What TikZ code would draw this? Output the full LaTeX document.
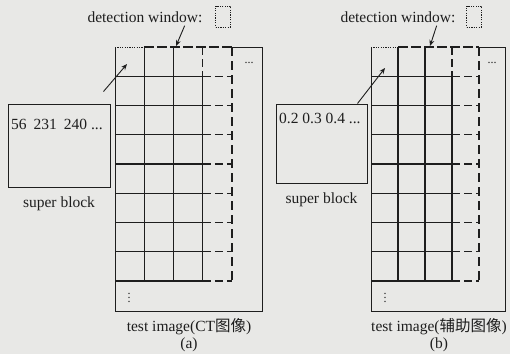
\documentclass[tikz,border=0pt]{standalone}
\usepackage{fontspec}
\setmainfont{Liberation Serif}
\newfontfamily\cjk{Noto Sans CJK SC}
\usetikzlibrary{positioning, arrows.meta}
\definecolor{PaperGray}{RGB}{232,232,230}
\definecolor{InkGray}{RGB}{30,30,30}

\begin{document}
\begin{tikzpicture}[
  x=1pt, y=-1pt,
  font=\fontsize{15.5}{18}\selectfont,
  >={Stealth[length=6pt, width=5pt]},
  lab/.style={inner sep=0pt, text=InkGray},
  smalltxt/.style={inner sep=0pt, text=InkGray, font=\fontsize{12}{12}\selectfont},
  cellline/.style={draw=InkGray, line width=1.1pt},
  wdash/.style={dash pattern=on 8pt off 4pt},
  vdash/.style={dash pattern=on 9pt off 5pt},
  frame/.style={draw=InkGray, line width=0.9pt},
  topdot/.style={draw=InkGray, line width=1pt, dash pattern=on 1.2pt off 1.2pt},
  topdash/.style={draw=InkGray, line width=1.5pt, dash pattern=on 10pt off 3pt},
  sbox/.style={draw=InkGray, line width=1pt, inner sep=0pt},
  dotbox/.style={draw=InkGray, line width=0.9pt, dash pattern=on 1.2pt off 1.2pt,
    inner sep=0pt, minimum width=15pt, minimum height=21pt},
  arr/.style={->, draw=InkGray, line width=0.9pt},
]
  \fill[PaperGray] (0,0) rectangle (510,354);
  \useasboundingbox (0,0) rectangle (510,354);

  % test image grids, (a) and (b)
  \foreach \xo/\w/\xr in {115/29.25/262, 371/27/505} {
    \foreach \i in {1,...,8} {
      \pgfmathsetmacro\yr{47+29.25*\i}
      \draw[cellline] (\xo,\yr) -- ({\xo+3*\w},\yr);
      \draw[cellline, wdash] ({\xo+3*\w},\yr) -- ({\xo+4*\w},\yr);
    }
    \foreach \j in {1,2}
      \draw[cellline] ({\xo+\j*\w},47) -- ({\xo+\j*\w},281);
    \draw[cellline] ({\xo+3*\w},77) -- ({\xo+3*\w},281);
    \draw[cellline, wdash] ({\xo+3*\w},47) -- ({\xo+3*\w},77);
    \draw[cellline, vdash] ({\xo+4*\w},47) -- ({\xo+4*\w},281);
    \draw[frame] ({\xo+4*\w},47) -- (\xr,47) -- (\xr,311) -- (\xo,311) -- (\xo,47);
    \draw[topdot] (\xo,47.5) -- ({\xo+\w},47.5);
    \draw[topdash] ({\xo+\w},47) -- ({\xo+4*\w},47);
    \node[smalltxt] (hdots-\xo) at ({\xr-13},63) {...};
    \node[smalltxt] (vdots-\xo) at ({\xo+14},295) {$\vdots$};
  }

  % panel (a)
  \node[lab] (dwA) at (145,17) {detection window:};
  \node[dotbox] (dwboxA) at (223,16.5) {};
  \coordinate (topA) at (176,46);
  \draw[arr] ([xshift=-18pt, yshift=-3pt]dwA.south east) -- (topA);
  \node[sbox, minimum width=102pt, minimum height=83pt] (supA) at (59,145.5) {};
  \node[lab, anchor=west] (numA) at (11,124) {56\hspace{0.45em}231\hspace{0.45em}240 ...};
  \node[lab, below=9pt of supA] (capA) {super block};
  \coordinate (cellA) at (127,64);
  \draw[arr] ([xshift=-7pt, yshift=12pt]supA.north east) -- (cellA);
  \node[lab] (testA) at (189,327) {test image(CT{\cjk 图像})};
  \node[lab, below=2pt of testA] (subA) {(a)};

  % panel (b)
  \node[lab] (dwB) at (398,17) {detection window:};
  \node[dotbox] (dwboxB) at (474,16.5) {};
  \coordinate (topB) at (430,46);
  \draw[arr] ([xshift=-19pt, yshift=-3pt]dwB.south east) -- (topB);
  \node[sbox, minimum width=91pt, minimum height=79pt] (supB) at (321.5,143.5) {};
  \node[lab, anchor=west] (numB) at (279,118) {0.2 0.3 0.4 ...};
  \node[lab, below=9pt of supB] (capB) {super block};
  \coordinate (cellB) at (385,68);
  \draw[arr] ([xshift=-10pt]supB.north east) -- (cellB);
  \node[lab] (testB) at (439,327) {test image({\cjk 辅助图像})};
  \node[lab, below=2pt of testB] (subB) {(b)};
\end{tikzpicture}
\end{document}
